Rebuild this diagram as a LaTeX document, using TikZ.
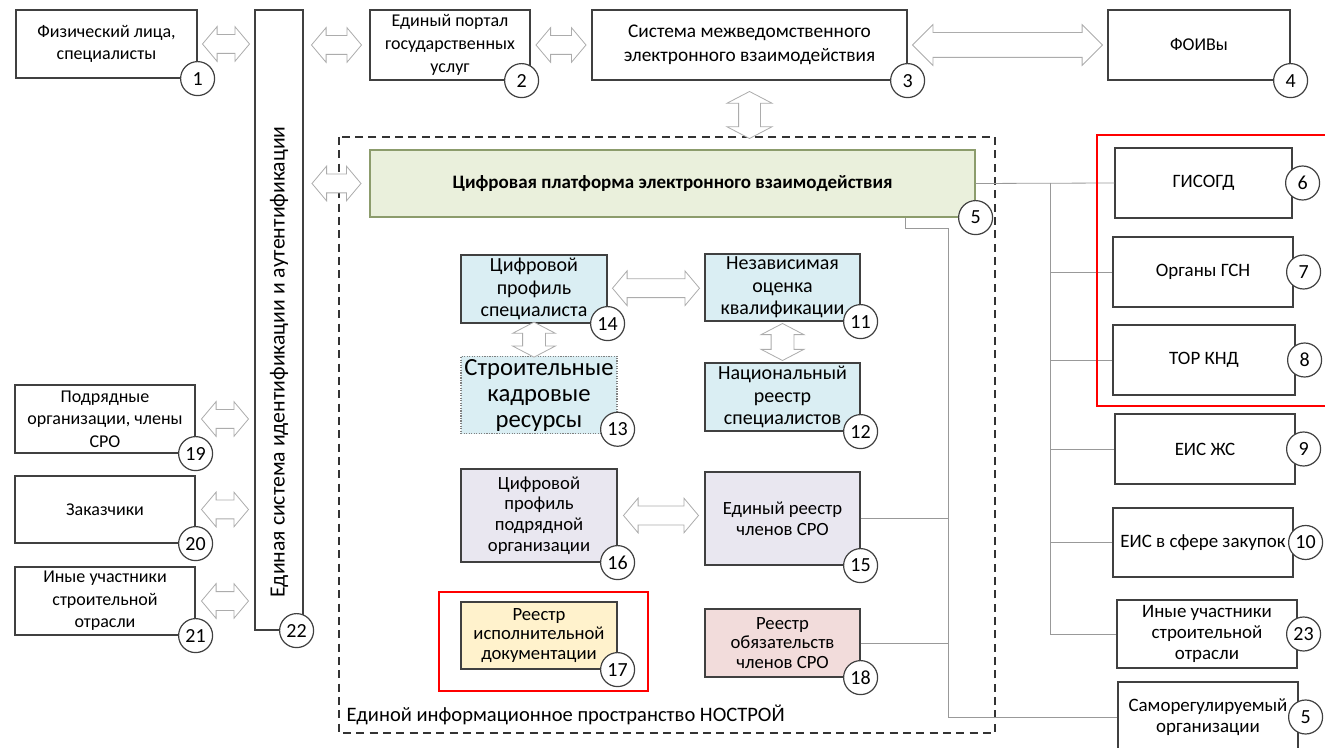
\documentclass[tikz,border=0pt]{standalone}
\usepackage{fontspec}
\setmainfont{Carlito}
\usepackage{tikz}
\usetikzlibrary{shapes.arrows,calc}
\definecolor{platgreen}{HTML}{EAF0DC}
\definecolor{platedge}{HTML}{8C9C6C}
\definecolor{profblue}{HTML}{DAEEF3}
\definecolor{sroviolet}{HTML}{E9E7F0}
\definecolor{docyellow}{HTML}{FFF2CC}
\definecolor{oblpink}{HTML}{F2DCDB}
\definecolor{edge}{HTML}{404040}
\newcommand{\pxu}{0.75pt}

\begin{document}
\begin{tikzpicture}[x=0.75pt, y=-0.75pt,
    box/.style={draw=edge, line width=0.9pt, fill=white, align=center, inner sep=2pt,
      font=\fontsize{13.5}{17}\selectfont},
    inbox/.style={box, font=\fontsize{15}{16.8}\selectfont},
    rbox/.style={box, font=\fontsize{14.2}{16}\selectfont},
    num/.style={circle, draw=edge, line width=0.9pt, fill=white, minimum size=34*\pxu,
      inner sep=0pt, font=\fontsize{15}{15}\selectfont},
    dbl/.style={double arrow, draw=gray!65, fill=white, line width=0.6pt,
      minimum height=#1*\pxu, minimum width=0pt, inner xsep=0pt, inner ysep=9*\pxu,
      double arrow head extend=8*\pxu, double arrow tip angle=100},
    vdbl/.style={dbl=#1, rotate=90, inner ysep=11*\pxu,
      double arrow head extend=10*\pxu, double arrow tip angle=125},
    link/.style={draw=gray!80, line width=0.6pt},
    redframe/.style={draw=red, line width=2.2pt}]

    \useasboundingbox (0,0) rectangle (1325,748);
    \clip (0,0) rectangle (1325,748);

    % top row
    \node[box, minimum width=181*\pxu, minimum height=68*\pxu] (fiz) at (106.5,44) {Физический лица,\\специалисты};
    \node[box, minimum width=48*\pxu, minimum height=620*\pxu] (idbar) at (279,320) {};
    \node[rotate=90, font=\fontsize{16.3}{16}\selectfont] (idtext) at (279,362) {Единая система идентификации и аутентификации};
    \node[box, minimum width=160*\pxu, minimum height=70*\pxu] (portal) at (450,45) {Единый портал\\государственных\\услуг};
    \node[box, minimum width=315*\pxu, minimum height=70*\pxu, font=\fontsize{14.5}{18}\selectfont] (smev) at (749.5,45) {Система межведомственного\\электронного взаимодействия};
    \node[box, minimum width=182*\pxu, minimum height=70*\pxu] (foiv) at (1199,45) {ФОИВы};

    % NOSTROY space
    \draw[draw=gray!40!black, line width=0.9pt, dash pattern=on 6pt off 4pt] (339,137) rectangle (995,733);
    \node[anchor=base west, font=\fontsize{15.4}{15}\selectfont] (nostroy) at (342,721) {Единой информационное пространство НОСТРОЙ};

    \node[box, draw=platedge, fill=platgreen, minimum width=605*\pxu, minimum height=67*\pxu,
      font=\fontsize{14.25}{16}\selectfont\bfseries] (plat) at (672.5,183.5) {Цифровая платформа электронного взаимодействия};

    \node[inbox, fill=profblue, minimum width=146*\pxu, minimum height=68*\pxu] (profspec) at (534,289) {Цифровой\\профиль\\специалиста};
    \node[inbox, fill=profblue, minimum width=155*\pxu, minimum height=67*\pxu] (nok) at (782.5,287.5) {Независимая\\оценка\\квалификации};
    \node[inbox, fill=profblue, draw=gray, densely dotted, minimum width=156*\pxu, minimum height=70*\pxu,
      font=\fontsize{18.5}{19.5}\selectfont] (kadry) at (539,395) {Строительные\\кадровые\\ресурсы};
    \node[inbox, fill=profblue, minimum width=155*\pxu, minimum height=68*\pxu] (nrs) at (782.5,397) {Национальный\\реестр\\специалистов};
    \node[inbox, fill=sroviolet, minimum width=156*\pxu, minimum height=93*\pxu,
      font=\fontsize{14}{15.5}\selectfont] (profpodr) at (539,515.5) {Цифровой\\профиль\\подрядной\\организации};
    \node[inbox, fill=sroviolet, minimum width=155*\pxu, minimum height=93*\pxu,
      font=\fontsize{14}{15.5}\selectfont] (reestrsro) at (782.5,518.5) {Единый реестр\\членов СРО};
    \node[inbox, fill=docyellow, minimum width=156*\pxu, minimum height=67*\pxu,
      font=\fontsize{14}{14.8}\selectfont] (ispdoc) at (539,635.5) {Реестр\\исполнительной\\документации};
    \node[inbox, fill=oblpink, minimum width=155*\pxu, minimum height=68*\pxu,
      font=\fontsize{14}{14.8}\selectfont] (obyaz) at (782.5,643) {Реестр\\обязательств\\членов СРО};

    % right column
    \node[rbox, minimum width=177*\pxu, minimum height=70*\pxu] (isogd) at (1203.5,183) {ГИСОГД};
    \node[rbox, minimum width=180*\pxu, minimum height=70*\pxu] (gsn) at (1203,272) {Органы ГСН};
    \node[rbox, minimum width=182*\pxu, minimum height=70*\pxu] (tor) at (1204,360) {ТОР КНД};
    \node[rbox, minimum width=180*\pxu, minimum height=70*\pxu] (eiszhs) at (1205,449) {ЕИС ЖС};
    \node[rbox, minimum width=180*\pxu, minimum height=69*\pxu] (zakup) at (1203,542.5) {ЕИС в сфере закупок};
    \node[rbox, minimum width=180*\pxu, minimum height=68*\pxu] (inyeR) at (1207,634) {Иные участники\\строительной\\отрасли};
    \node[rbox, minimum width=180*\pxu, minimum height=70*\pxu] (sro) at (1208,717) {Саморегулируемый\\организации};

    % left column
    \node[box, minimum width=180*\pxu, minimum height=68*\pxu] (podr) at (105,419) {Подрядные\\организации, члены\\СРО};
    \node[box, minimum width=180*\pxu, minimum height=67*\pxu] (zakaz) at (105,509.5) {Заказчики};
    \node[box, minimum width=180*\pxu, minimum height=68*\pxu] (inyeL) at (105,601) {Иные участники\\строительной\\отрасли};

    % two-way arrows
    \node[dbl=47] (a1) at ($(fiz.east)!0.5!(fiz.east -| idbar.west)$) {};
    \node[dbl=50] (a2) at ($(portal.west -| idbar.east)!0.5!(portal.west)$) {};
    \node[dbl=50] (a3) at ($(portal.east)!0.5!(smev.west)$) {};
    \node[dbl=190, inner ysep=12*\pxu, double arrow tip angle=90] (a4) at ($(smev.east)!0.5!(foiv.west)$) {};
    \node[vdbl=47, inner ysep=10.5*\pxu, double arrow head extend=11.5*\pxu] (a5) at ($(smev.south)!0.5!(smev.south |- plat.north)$) {};
    \node[dbl=49] (a6) at ($(plat.west -| idbar.east)!0.5!(plat.west)$) {};
    \node[dbl=87] (a7) at ($(profspec.east)!0.5!(nok.west)$) {};
    \node[vdbl=35] (a8) at ($(profspec.south)!0.5!(profspec.south |- kadry.north)$) {};
    \node[vdbl=37] (a9) at ($(nok.south)!0.5!(nrs.north)$) {};
    \node[dbl=75] (a10) at ($(profpodr.east)!0.5!(profpodr.east -| reestrsro.west)$) {};
    \node[dbl=47] (a11) at ($(podr.east)!0.5!(podr.east -| idbar.west)$) {};
    \node[dbl=47] (a12) at ($(zakaz.east)!0.5!(zakaz.east -| idbar.west)$) {};
    \node[dbl=47] (a13) at ($(inyeL.east)!0.5!(inyeL.east -| idbar.west)$) {};

    % links to outside systems
    \coordinate (busR) at (1050,183);
    \draw[link] (plat.east) -- (isogd.west);
    \draw[link] (busR) -- (busR |- inyeR.west);
    \foreach \n in {gsn,tor,eiszhs,zakup,inyeR}
      \draw[link] (busR |- \n.west) -- (\n.west);

    \coordinate (platout) at ($(plat.south east)+(-70,0)$);
    \coordinate (busS) at (948,228);
    \draw[link] (platout) |- (busS) -- (busS |- sro.west) -- (sro.west);
    \draw[link] (reestrsro.east) -- (busS |- reestrsro.east);
    \draw[link] (obyaz.east) -- (busS |- obyaz.east);

    % numbers
    \node[num] (c1) at (fiz.south east) {1};
    \node[num] (c2) at ([xshift=-9*\pxu]portal.south east) {2};
    \node[num] (c3) at (smev.south east) {3};
    \node[num] (c4) at (foiv.south east) {4};
    \node[num] (c5) at (plat.south east) {5};
    \node[num] (c14) at (profspec.south east) {14};
    \node[num] (c11) at (nok.south east) {11};
    \node[num] (c13) at ([yshift=5*\pxu]kadry.south east) {13};
    \node[num] (c12) at (nrs.south east) {12};
    \node[num] (c16) at (profpodr.south east) {16};
    \node[num] (c15) at (reestrsro.south east) {15};
    \node[num] (c17) at (ispdoc.south east) {17};
    \node[num] (c18) at (obyaz.south east) {18};
    \node[num] (c22) at ([xshift=-7*\pxu]idbar.south east) {22};
    \node[num] (c19) at (podr.south east) {19};
    \node[num] (c20) at (zakaz.south east) {20};
    \node[num] (c21) at (inyeL.south east) {21};
    \node[num] (c6) at ([xshift=10*\pxu]isogd.east) {6};
    \node[num] (c7) at ([xshift=10*\pxu]gsn.east) {7};
    \node[num] (c8) at ([xshift=9*\pxu]tor.east) {8};
    \node[num] (c9) at ([xshift=8*\pxu]eiszhs.east) {9};
    \node[num] (c10) at ([xshift=12*\pxu]zakup.east) {10};
    \node[num] (c23) at ([xshift=6*\pxu]inyeR.east) {23};
    \node[num] (c5b) at ([xshift=7*\pxu]sro.east) {5};

    % highlighted parts
    \draw[redframe] (439,592) rectangle (648,691);
    \draw[redframe] (1097,135) rectangle (1340,406);

\end{tikzpicture}
\end{document}
